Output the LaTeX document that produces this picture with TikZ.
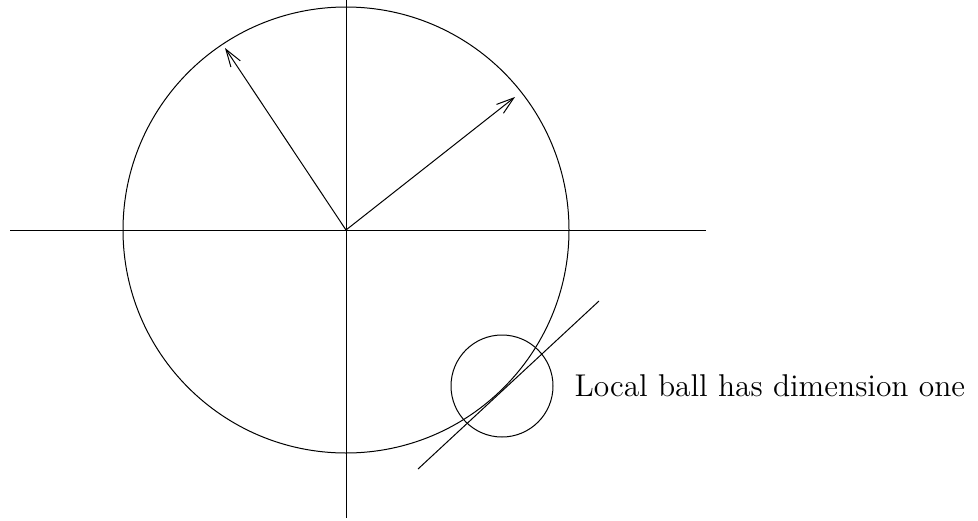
\documentclass[tikz,border=0pt]{standalone}
\usepackage{tikz}
\usetikzlibrary{arrows.meta}
\tikzset{
  axis/.style={thin, draw=black},
  vec/.style={-{Straight Barb[length=7pt,width=4.5pt]}, thin},
  label/.style={anchor=west, inner sep=0pt, font=\fontsize{12.6}{15}\selectfont}
}
\begin{document}
\begin{tikzpicture}[x=0.4pt, y=-0.4pt]
  \useasboundingbox (0,0) rectangle (978,520);
  \coordinate (O) at (346,230);
  \coordinate (xl) at (10,230);
  \coordinate (xr) at (706,230);
  \coordinate (yt) at (346,0);
  \coordinate (yb) at (346,518);
  \draw[axis] (xl) -- (xr);
  \draw[axis] (yt) -- (yb);
  \draw[thin] (O) circle (223);

  \coordinate (v1) at (225,48);
  \coordinate (v2) at (515,97);
  \draw[vec] (O) -- (v1);
  \draw[vec] (O) -- (v2);

  % local ball and tangent
  \coordinate (B) at (502,386);
  \draw[thin] (B) circle (51);
  \coordinate (t1) at (418,469);
  \coordinate (t2) at (599,301);
  \draw[thin] (t1) -- (t2);

  \node[label] (txt) at (574,386) {Local ball has dimension one};
\end{tikzpicture}
\end{document}
